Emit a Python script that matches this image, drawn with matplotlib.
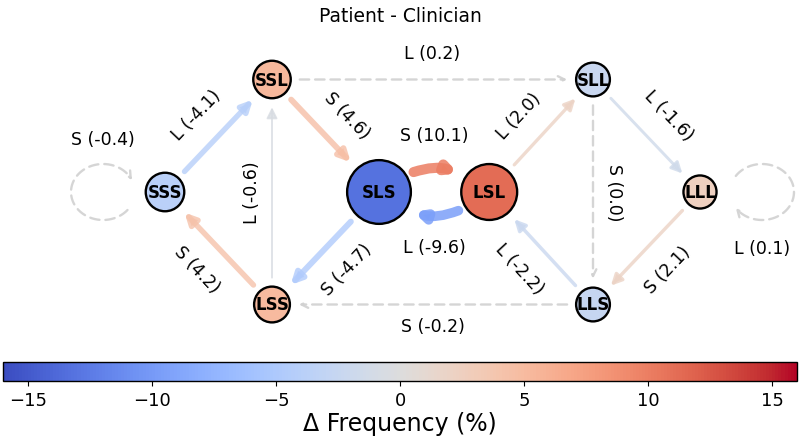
import numpy as np
import matplotlib
matplotlib.use("Agg")
import matplotlib.pyplot as plt
from matplotlib.patches import FancyArrowPatch
from matplotlib.path import Path
from matplotlib.colors import Normalize
from matplotlib.cm import ScalarMappable

# ---------------- data ----------------
title = "Patient - Clinician"
node_names = ["SSS", "SSL", "SLS", "LSS", "LSL", "SLL", "LLS", "LLL"]
node_delta = [-3.8, 5.3, -13.2, 5.0, 11.2, -2.3, -2.6, 2.4]      # colour (Δ %)
node_freq = [9.5, 9.0, 26.0, 8.2, 20.0, 7.3, 7.3, 7.0]           # size

edge_src = ["SSS", "SSL", "SLS", "LSS", "LSS", "SSL", "LLS", "SLS", "LSL",
            "LSL", "SLL", "LLL", "LLS", "SLL", "SSS", "LLL"]
edge_dst = ["SSL", "SLS", "LSS", "SSS", "SSL", "SLL", "LSS", "LSL", "SLS",
            "SLL", "LLL", "LLS", "LSL", "LLS", "SSS", "LLL"]
edge_sym = ["L", "S", "S", "S", "L", "L", "S", "S", "L",
            "L", "L", "S", "L", "S", "S", "L"]
edge_delta = [-4.1, 4.6, -4.7, 4.2, -0.6, 0.2, -0.2, 10.1, -9.6,
              2.0, -1.6, 2.1, -2.2, 0.0, -0.4, 0.1]

cbar_ticks = [-15, -10, -5, 0, 5, 10, 15]
cbar_label = "Δ Frequency (%)"

# ---------------- layout ----------------
pos = {"SSS": (0, 0), "SSL": (1, 1), "LSS": (1, -1), "SLS": (2, 0),
       "LSL": (3.03, 0), "SLL": (4, 1), "LLS": (4, -1), "LLL": (5, 0)}
W, H, DPI = 8.0, 4.39, 100
fig = plt.figure(figsize=(W, H), dpi=DPI)
ax = fig.add_axes([0, 1 - 345 / 439, 1, 315 / 439])
ax.set_xlim(-165 / 107, (800 - 165) / 107)
ax.set_ylim(-(345 - 193) / 112.5, (193 - 30) / 112.5)
ax.axis("off")

cmap = plt.get_cmap("coolwarm")
norm = Normalize(-16, 16)
px2pt = 72.0 / DPI

size_k = 81.0
node_r_px = {n: np.sqrt(f * size_k) / 2 / px2pt for n, f in zip(node_names, node_freq)}

# label perpendicular offsets (px)
lab_off = {("SSL", "SLL"): 27, ("LLS", "LSS"): 21, ("LSS", "SSL"): 20,
           ("SLL", "LLS"): 21, ("SLS", "LSL"): 57, ("LSL", "SLS"): 55}
FS = 12.5
DASH = (0, (4, 2.5))

def disp(p):
    return ax.transData.transform(p)

for s, d, sym, v in zip(edge_src, edge_dst, edge_sym, edge_delta):
    label = f"{sym} ({v:.1f})"
    dashed = abs(v) < 0.5
    col = (0.82, 0.82, 0.82, 1.0) if dashed else cmap(norm(v))
    alpha = 0.9 if dashed else 0.8
    lw = 1.7 if dashed else 1.0 + 0.7 * abs(v)
    if s == d:
        cx_sign = -1 if s == "SSS" else 1
        x0, y0 = pos[s]
        cx = x0 + cx_sign * 62 / 107
        rx, ry = 32 / 107, 28 / 112.5
        if s == "SSS":
            th = np.radians(np.linspace(-40, -335, 60))
            ly = y0 + 53 / 112.5
        else:
            th = np.radians(np.linspace(145, -145, 60))
            ly = y0 - 56 / 112.5
        verts = np.column_stack([cx + rx * np.cos(th), y0 + ry * np.sin(th)])
        arr = FancyArrowPatch(path=Path(verts), arrowstyle="->", mutation_scale=12,
                              color=col, lw=lw, linestyle=DASH, alpha=alpha, zorder=1)
        ax.add_patch(arr)
        ax.text(cx, ly, label, ha="center", va="center", fontsize=FS)
        continue
    pa, pb = disp(pos[s]), disp(pos[d])
    sa = (node_r_px[s] + 9) * px2pt
    sb = (node_r_px[d] + 9) * px2pt
    curved = (s, d) in [("SLS", "LSL"), ("LSL", "SLS")]
    if curved:
        cs = "arc3,rad=-0.42"
        sa = (node_r_px[s] + 8) * px2pt
        sb = (node_r_px[d] + 8) * px2pt
        style = "-|>"
        ms = 11
        lw = 0.72 * abs(v)
        alpha = 0.85
    else:
        cs = "arc3,rad=0"
        style = "->" if dashed else "-|>"
        ms = 12 if dashed else 16
    arr = FancyArrowPatch(pos[s], pos[d], arrowstyle=style, mutation_scale=ms,
                          connectionstyle=cs, shrinkA=sa, shrinkB=sb,
                          color=col, lw=lw, alpha=alpha,
                          linestyle=DASH if dashed else "-", zorder=1)
    ax.add_patch(arr)
    dvec = pb - pa
    ang = np.degrees(np.arctan2(dvec[1], dvec[0]))
    perp = np.array([-dvec[1], dvec[0]]) / np.linalg.norm(dvec)
    off = lab_off.get((s, d), 30)
    mid = (pa + pb) / 2 + perp * off
    rot = ang
    if rot > 90.01:
        rot -= 180
    elif rot < -90.01:
        rot += 180
    if curved:
        rot = 0
    lp = ax.transData.inverted().transform(mid)
    ax.text(lp[0], lp[1], label, ha="center", va="center", rotation=rot,
            rotation_mode="anchor", fontsize=FS)

xs = [pos[n][0] for n in node_names]
ys = [pos[n][1] for n in node_names]
ax.scatter(xs, ys, s=[f * size_k for f in node_freq], c=node_delta, cmap=cmap, norm=norm,
           edgecolors="black", linewidths=1.7, zorder=3)
for n in node_names:
    ax.text(pos[n][0], pos[n][1], n, ha="center", va="center", fontsize=12,
            fontweight="bold", zorder=4)

fig.text(0.5, 1 - 16 / 439, title, ha="center", va="center", fontsize=13.5)

cax = fig.add_axes([3 / 800, 1 - 382 / 439, 794 / 800, 19 / 439])
cb = fig.colorbar(ScalarMappable(norm=norm, cmap=cmap), cax=cax, orientation="horizontal")
cb.set_ticks(cbar_ticks)
cb.ax.tick_params(labelsize=13)
cb.set_label(cbar_label, fontsize=17, labelpad=2)
cb.outline.set_linewidth(1.0)

fig.savefig("out.png", dpi=DPI)
